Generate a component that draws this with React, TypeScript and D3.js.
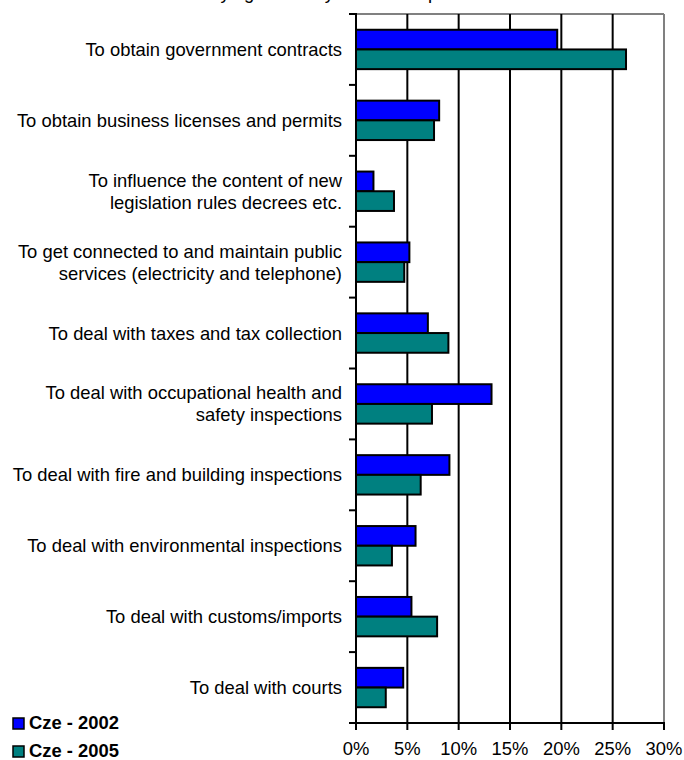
import React from 'react';
import * as d3 from 'd3';

// categories (each entry is the list of label lines)
const categories: string[][] = [
  ['To obtain government contracts'],
  ['To obtain business licenses and permits'],
  ['To influence the content of new', 'legislation rules decrees etc.'],
  ['To get connected to and maintain public', 'services (electricity and telephone)'],
  ['To deal with taxes and tax collection'],
  ['To deal with occupational health and', 'safety inspections'],
  ['To deal with fire and building inspections'],
  ['To deal with environmental inspections'],
  ['To deal with customs/imports'],
  ['To deal with courts'],
];

const cze2002 = [19.6, 8.1, 1.7, 5.2, 7.0, 13.2, 9.1, 5.8, 5.4, 4.6];
const cze2005 = [26.3, 7.6, 3.7, 4.7, 9.0, 7.4, 6.3, 3.5, 7.9, 2.9];

const xTicks = [0, 5, 10, 15, 20, 25, 30];

const seriesNames = ['Cze - 2002', 'Cze - 2005'];
const seriesColors = ['#0000ff', '#008080'];

const W = 684;
const H = 760;
const FONT = 'Arial, "Liberation Sans", sans-serif';

const App: React.FC = () => {
  const left = 356;
  const right = 664;
  const top = 14;
  const bottom = 723;

  const x = d3.scaleLinear().domain([0, 30]).range([left, right]);
  const y = d3
    .scaleBand<number>()
    .domain(categories.map((_, i) => i))
    .range([top, bottom]);

  const bw = y.bandwidth();
  const barH = bw / 3.6; // excel gap width 160%
  const groupOff = (bw - 2 * barH) / 2;
  const series = [cze2002, cze2005];

  const bandEdges = d3.range(categories.length + 1).map((i) => top + i * bw);

  return (
    <svg
      width={W}
      height={H}
      style={{ position: 'absolute', left: 0, top: 0, background: '#fff' }}
      fontFamily={FONT}
    >
      {/* title, cut off by the top edge as in the source */}
      <text x={201} y={-1} fontSize={18.4} textAnchor="end" fill="#000">
        Share of firms{' '}
      </text>
      <text x={201} y={-1} fontSize={18.4} fill="#000">
        saying bribes by area are a problem
      </text>

      {/* plot border (gray) */}
      <line x1={left} x2={right} y1={top} y2={top} stroke="#808080" strokeWidth={2} />
      <line x1={right} x2={right} y1={top} y2={bottom} stroke="#808080" strokeWidth={2} />

      {/* gridlines */}
      {xTicks
        .filter((t) => t > 0 && t < 30)
        .map((t) => (
          <line key={t} x1={x(t)} x2={x(t)} y1={top} y2={bottom} stroke="#000" strokeWidth={2} />
        ))}

      {/* bars */}
      {categories.map((_, i) =>
        series.map((vals, s) => (
          <rect
            key={`${i}-${s}`}
            x={x(0)}
            y={(y(i) as number) + groupOff + s * barH}
            width={x(vals[i]) - x(0)}
            height={barH}
            fill={seriesColors[s]}
            stroke="#000"
            strokeWidth={2}
          />
        ))
      )}

      {/* left axis */}
      <line x1={left} x2={left} y1={top - 1} y2={bottom} stroke="#000" strokeWidth={2} />
      {bandEdges.map((e, i) => (
        <line key={i} x1={left - 7} x2={left} y1={e} y2={e} stroke="#000" strokeWidth={2} />
      ))}

      {/* bottom axis */}
      <line x1={left - 7} x2={right + 1} y1={bottom} y2={bottom} stroke="#000" strokeWidth={2} />
      {xTicks.map((t) => (
        <g key={t}>
          <line x1={x(t)} x2={x(t)} y1={bottom} y2={bottom + 7} stroke="#000" strokeWidth={2} />
          <text x={x(t)} y={755} fontSize={18.4} textAnchor="middle" fill="#000">
            {`${t}%`}
          </text>
        </g>
      ))}

      {/* category labels */}
      {categories.map((lines, i) => {
        const cy = (y(i) as number) + bw / 2;
        const lh = 22;
        const y0 = cy - ((lines.length - 1) * lh) / 2 + 6.5;
        return (
          <text key={i} x={342} fontSize={18.4} textAnchor="end" fill="#000">
            {lines.map((ln, j) => (
              <tspan key={j} x={342} y={y0 + j * lh}>
                {ln}
              </tspan>
            ))}
          </text>
        );
      })}

      {/* legend */}
      {seriesNames.map((name, s) => (
        <g key={name} transform={`translate(13, ${718 + s * 28})`}>
          <rect x={0} y={0} width={11} height={11} fill={seriesColors[s]} stroke="#000" strokeWidth={1.5} />
          <text x={16} y={11} fontSize={18.4} fontWeight="bold" fill="#000">
            {name}
          </text>
        </g>
      ))}
    </svg>
  );
};

export default App;
